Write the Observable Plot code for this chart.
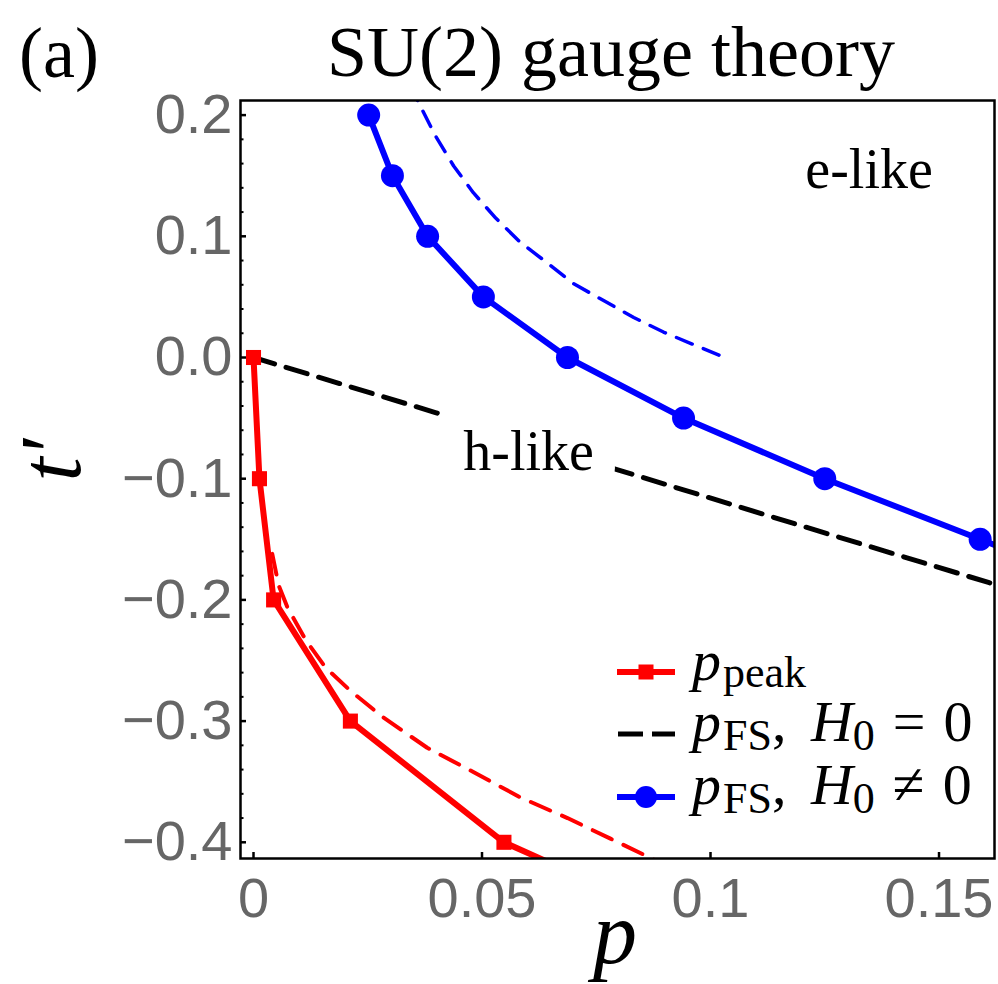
<!DOCTYPE html>
<html>
<head>
<meta charset="utf-8">
<script src="https://cdn.jsdelivr.net/npm/d3@7"></script>
<script src="https://cdn.jsdelivr.net/npm/@observablehq/plot@0.6"></script>
<style>
  body { margin: 0; background: #fff; }
  #wrap { position: relative; width: 998px; height: 984px; overflow: hidden; background: #fff; }
  #overlay { position: absolute; left: 0; top: 0; pointer-events: none; }
  #overlay text { font-family: "Liberation Serif", "Times New Roman", serif; fill: #000; }
</style>
</head>
<body>
<div id="wrap">
  <div id="chart"></div>
  <svg id="overlay" width="998" height="984" xmlns="http://www.w3.org/2000/svg">
    <text x="19" y="77" font-size="72">(a)</text>
    <text x="611" y="76" font-size="72" text-anchor="middle">SU(2) gauge theory</text>
    <text x="615" y="963" font-size="88" font-style="italic" text-anchor="middle">p</text>
    <text transform="translate(80,460) rotate(-90)" font-size="86" font-style="italic" text-anchor="middle">t′</text>
    <!-- legend -->
    <g>
      <line x1="617" x2="675" y1="672" y2="672" stroke="#ff0000" stroke-width="6"/>
      <rect x="638.5" y="664.5" width="15" height="15" fill="#ff0000"/>
      <text x="692" y="680" font-size="58"><tspan font-style="italic">p</tspan><tspan font-size="44" dx="2" dy="7">peak</tspan></text>

      <line x1="618" x2="675" y1="734" y2="734" stroke="#000" stroke-width="5" stroke-dasharray="25,9"/>
      <text x="692" y="741" font-size="58"><tspan font-style="italic">p</tspan><tspan font-size="44" dx="2" dy="9">FS</tspan><tspan dy="-9">, </tspan><tspan font-style="italic" dx="10">H</tspan><tspan font-size="44" dy="9">0</tspan><tspan dy="-9" dx="18">=</tspan><tspan dx="18">0</tspan></text>

      <line x1="617" x2="675" y1="797" y2="797" stroke="#0000ff" stroke-width="6"/>
      <circle cx="646" cy="797" r="11" fill="#0000ff"/>
      <text x="692" y="804" font-size="58"><tspan font-style="italic">p</tspan><tspan font-size="44" dx="2" dy="9">FS</tspan><tspan dy="-9">, </tspan><tspan font-style="italic" dx="10">H</tspan><tspan font-size="44" dy="9">0</tspan><tspan dy="-9" dx="18">≠</tspan><tspan dx="18">0</tspan></text>
    </g>
  </svg>
</div>
<script>
// ---------------- data ----------------
// p_peak (red, squares)
const peakT = [0, -0.1, -0.2, -0.3, -0.4, -0.5];
const peakP = [0, 0.0013, 0.0044, 0.0212, 0.0548, 0.114];

// red dashed guide near p_peak
const redDashP = [0.0041, 0.0055, 0.0074, 0.0114, 0.0158, 0.0212, 0.0284, 0.0380, 0.0481, 0.0584, 0.0687, 0.0781, 0.0869, 0.095];
const redDashT = [-0.162, -0.188, -0.206, -0.233, -0.256, -0.275, -0.297, -0.322, -0.342, -0.363, -0.380, -0.397, -0.413, -0.428];

// p_FS, H0 = 0 (black dashed)
const fs0P = [0, 0.0398, 0.0788, 0.12, 0.1608, 0.17];
const fs0T = [0, -0.0454, -0.0916, -0.139, -0.1856, -0.196];

// p_FS, H0 != 0 (blue, circles)
const fsHT = [0.2, 0.15, 0.1, 0.05, 0, -0.05, -0.1, -0.15, -0.2];
const fsHP = [0.0252, 0.0304, 0.0381, 0.0503, 0.0687, 0.0941, 0.125, 0.159, 0.193];

// blue dashed guide
const blueDashP = [0.0345, 0.0359, 0.0398, 0.0438, 0.0481, 0.0530, 0.0584, 0.0643, 0.0700, 0.0766, 0.0832, 0.0897, 0.0967, 0.1037];
const blueDashT = [0.225, 0.212, 0.183, 0.158, 0.136, 0.115, 0.095, 0.078, 0.061, 0.047, 0.033, 0.021, 0.010, -0.001];

// region labels
const regionText = ["e-like", "h-like"];
const regionP = [0.1347, 0.0602];
const regionT = [0.1543, -0.0784];

// axes
const xTicks = [0, 0.05, 0.1, 0.15];
const yTicks = [-0.4, -0.3, -0.2, -0.1, 0, 0.1, 0.2];
const yMinor = d3.range(-40, 21, 2).map(v => v / 100).filter(v => Math.round(v * 100) % 10 !== 0);

const xDomain = [-0.002845, 0.16214];
const yDomain = [-0.41337, 0.21205];

// ---------------- build tables ----------------
const zip = (P, T) => P.map((p, i) => ({p, t: T[i]}));
const peak = zip(peakP, peakT);
const redDash = zip(redDashP, redDashT);
const fs0 = zip(fs0P, fs0T);
const fsH = zip(fsHP, fsHT);
const blueDash = zip(blueDashP, blueDashT);
const regions = regionText.map((s, i) => ({s, p: regionP[i], t: regionT[i]}));

const fmtX = d => d === 0 ? "0" : String(d);
const fmtY = d => Math.abs(d) < 1e-9 ? "0.0" : (d < 0 ? "\u2212" : "") + Math.abs(d).toFixed(1);

const chart = Plot.plot({
  width: 998,
  height: 984,
  marginLeft: 240,
  marginRight: 4,
  marginTop: 100,
  marginBottom: 126,
  x: {domain: xDomain},
  y: {domain: yDomain},
  style: {fontFamily: "'Liberation Sans', Arial, sans-serif", background: "white", overflow: "visible"},
  marks: [
    Plot.axisY(yMinor, {tickSize: -3.5, tickFormat: () => "", stroke: "black", strokeWidth: 2, label: null}),
    Plot.axisY(yTicks, {tickSize: -6, tickPadding: 14, tickFormat: fmtY, fontSize: 56, fill: "#666", stroke: "black", strokeWidth: 2.5, label: null}),
    Plot.axisX(xTicks, {tickSize: -6, tickPadding: 25, tickFormat: fmtX, fontSize: 56, fill: "#666", stroke: "black", strokeWidth: 2.5, label: null}),
    Plot.line(fs0, {x: "p", y: "t", stroke: "black", strokeWidth: 5, strokeDasharray: "22,12", clip: true}),
    Plot.text(regions, {x: "p", y: "t", text: "s", fontSize: 56, fontFamily: "'Liberation Serif', 'Times New Roman', serif",
      fill: "black", stroke: "white", strokeWidth: 48, strokeLinejoin: "round", paintOrder: "stroke", textAnchor: "middle", lineAnchor: "middle"}),
    Plot.line(redDash, {x: "p", y: "t", stroke: "#ff0000", strokeWidth: 4, strokeDasharray: "21,13", clip: true}),
    Plot.line(blueDash, {x: "p", y: "t", stroke: "#0000ff", strokeWidth: 3.5, strokeDasharray: "17,12", clip: true}),
    Plot.line(peak, {x: "p", y: "t", stroke: "#ff0000", strokeWidth: 6, strokeLinejoin: "round", clip: true}),
    Plot.dot(peak, {x: "p", y: "t", symbol: "square", r: 8.5, fill: "#ff0000", clip: true}),
    Plot.line(fsH, {x: "p", y: "t", stroke: "#0000ff", strokeWidth: 6, strokeLinejoin: "round", clip: true}),
    Plot.dot(fsH, {x: "p", y: "t", r: 11.5, fill: "#0000ff", clip: true}),
    Plot.frame({stroke: "black", strokeWidth: 2.5})
  ]
});
document.getElementById("chart").appendChild(chart);
</script>
</body>
</html>
